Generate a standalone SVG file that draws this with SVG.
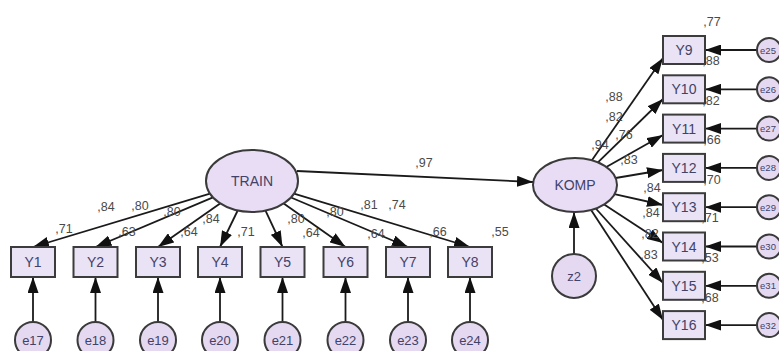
<svg xmlns="http://www.w3.org/2000/svg" width="779" height="351" viewBox="0 0 779 351">
  <defs>
    <marker id="arrow" markerUnits="userSpaceOnUse" markerWidth="16" markerHeight="11" refX="16" refY="5.5" orient="auto">
      <path d="M0,0 L16,5.5 L0,11 z" fill="#111"/>
    </marker>
    <style>
      .edge { stroke: #1a1a1a; stroke-width: 1.8; fill: none; marker-end: url(#arrow); }
      .obs { fill: #e9e3f5; stroke: #3c3c3c; stroke-width: 2; }
      .lat { fill: #e9ddf6; stroke: #3a3a3a; stroke-width: 2; }
      .err { fill: #e4d9f1; stroke: #3a3a3a; stroke-width: 2; }
      .nt { font-family: "Liberation Sans", Arial, sans-serif; font-size: 14px; fill: #424268; text-anchor: middle; }
      .et { font-family: "Liberation Sans", Arial, sans-serif; font-size: 13px; fill: #424268; text-anchor: middle; }
      .es { font-family: "Liberation Sans", Arial, sans-serif; font-size: 9.5px; fill: #424268; text-anchor: middle; }
      .lab { font-family: "Liberation Sans", Arial, sans-serif; font-size: 12.5px; fill: #4a4a4a; text-anchor: middle; }
    </style>
  </defs>
  <rect width="779" height="351" fill="#ffffff"/>

  <!-- paths -->
  <g id="connectors">
    <!-- TRAIN -> KOMP -->
    <line class="edge" x1="297" y1="171" x2="533" y2="182"/>
    <!-- TRAIN -> Y1..Y8 -->
    <line class="edge" x1="210" y1="193.7" x2="33" y2="247"/>
    <line class="edge" x1="213" y1="197.4" x2="95.5" y2="247"/>
    <line class="edge" x1="220.1" y1="203.4" x2="158" y2="247"/>
    <line class="edge" x1="237.7" y1="210.5" x2="220" y2="247"/>
    <line class="edge" x1="265.5" y1="210.6" x2="282.5" y2="247"/>
    <line class="edge" x1="283.7" y1="203.5" x2="345.5" y2="247"/>
    <line class="edge" x1="291" y1="197.5" x2="408" y2="247"/>
    <line class="edge" x1="294" y1="193.7" x2="470" y2="247"/>
    <!-- errors -> Y1..Y8 -->
    <line class="edge" x1="33" y1="322" x2="33" y2="277"/>
    <line class="edge" x1="95.5" y1="322" x2="95.5" y2="277"/>
    <line class="edge" x1="158" y1="322" x2="158" y2="277"/>
    <line class="edge" x1="220" y1="322" x2="220" y2="277"/>
    <line class="edge" x1="282.5" y1="322" x2="282.5" y2="277"/>
    <line class="edge" x1="345.5" y1="322" x2="345.5" y2="277"/>
    <line class="edge" x1="408" y1="322" x2="408" y2="277"/>
    <line class="edge" x1="470" y1="322" x2="470" y2="277"/>
    <!-- z2 -> KOMP -->
    <line class="edge" x1="574" y1="254" x2="574" y2="212"/>
    <!-- KOMP -> Y9..Y16 -->
    <line class="edge" x1="591.9" y1="160.3" x2="663" y2="58"/>
    <line class="edge" x1="597.9" y1="162.4" x2="663" y2="99"/>
    <line class="edge" x1="606.3" y1="167" x2="663" y2="135"/>
    <line class="edge" x1="615.6" y1="178" x2="663" y2="170"/>
    <line class="edge" x1="614.5" y1="194.1" x2="663" y2="205"/>
    <line class="edge" x1="604.2" y1="204.4" x2="663" y2="243"/>
    <line class="edge" x1="595.8" y1="208.5" x2="663" y2="283"/>
    <line class="edge" x1="591.1" y1="210" x2="663" y2="320"/>
    <!-- errors -> Y9..Y16 -->
    <line class="edge" x1="757" y1="50" x2="705" y2="50"/>
    <line class="edge" x1="757" y1="89.3" x2="705" y2="89.3"/>
    <line class="edge" x1="757" y1="128.6" x2="705" y2="128.6"/>
    <line class="edge" x1="757" y1="167.9" x2="705" y2="167.9"/>
    <line class="edge" x1="757" y1="207.2" x2="705" y2="207.2"/>
    <line class="edge" x1="757" y1="246.5" x2="705" y2="246.5"/>
    <line class="edge" x1="757" y1="285.8" x2="705" y2="285.8"/>
    <line class="edge" x1="757" y1="325.1" x2="705" y2="325.1"/>
  </g>

  <!-- latent variables -->
  <g id="TRAIN"><ellipse class="lat" cx="252" cy="181" rx="46" ry="31"/><text class="nt" x="252" y="186">TRAIN</text></g>
  <g id="KOMP"><ellipse class="lat" cx="575" cy="185" rx="42" ry="27"/><text class="nt" x="575" y="190">KOMP</text></g>
  <g id="z2"><circle class="err" cx="574" cy="276" r="22"/><text class="et" x="574" y="281">z2</text></g>

  <!-- TRAIN indicators -->
  <g id="Y1"><rect class="obs" x="11" y="247" width="44" height="30"/><text class="nt" x="33" y="267">Y1</text></g>
  <g id="Y2"><rect class="obs" x="73.5" y="247" width="44" height="30"/><text class="nt" x="95.5" y="267">Y2</text></g>
  <g id="Y3"><rect class="obs" x="136" y="247" width="44" height="30"/><text class="nt" x="158" y="267">Y3</text></g>
  <g id="Y4"><rect class="obs" x="198" y="247" width="44" height="30"/><text class="nt" x="220" y="267">Y4</text></g>
  <g id="Y5"><rect class="obs" x="260.5" y="247" width="44" height="30"/><text class="nt" x="282.5" y="267">Y5</text></g>
  <g id="Y6"><rect class="obs" x="323.5" y="247" width="44" height="30"/><text class="nt" x="345.5" y="267">Y6</text></g>
  <g id="Y7"><rect class="obs" x="386" y="247" width="44" height="30"/><text class="nt" x="408" y="267">Y7</text></g>
  <g id="Y8"><rect class="obs" x="448" y="247" width="44" height="30"/><text class="nt" x="470" y="267">Y8</text></g>

  <g id="e17"><circle class="err" cx="33" cy="340" r="18"/><text class="et" x="33" y="345">e17</text></g>
  <g id="e18"><circle class="err" cx="95.5" cy="340" r="18"/><text class="et" x="95.5" y="345">e18</text></g>
  <g id="e19"><circle class="err" cx="158" cy="340" r="18"/><text class="et" x="158" y="345">e19</text></g>
  <g id="e20"><circle class="err" cx="220" cy="340" r="18"/><text class="et" x="220" y="345">e20</text></g>
  <g id="e21"><circle class="err" cx="282.5" cy="340" r="18"/><text class="et" x="282.5" y="345">e21</text></g>
  <g id="e22"><circle class="err" cx="345.5" cy="340" r="18"/><text class="et" x="345.5" y="345">e22</text></g>
  <g id="e23"><circle class="err" cx="408" cy="340" r="18"/><text class="et" x="408" y="345">e23</text></g>
  <g id="e24"><circle class="err" cx="470" cy="340" r="18"/><text class="et" x="470" y="345">e24</text></g>

  <!-- KOMP indicators -->
  <g id="Y9"><rect class="obs" x="663" y="36" width="42" height="28"/><text class="nt" x="684" y="55">Y9</text></g>
  <g id="Y10"><rect class="obs" x="663" y="75.3" width="42" height="28"/><text class="nt" x="684" y="94.3">Y10</text></g>
  <g id="Y11"><rect class="obs" x="663" y="114.6" width="42" height="28"/><text class="nt" x="684" y="133.6">Y11</text></g>
  <g id="Y12"><rect class="obs" x="663" y="153.9" width="42" height="28"/><text class="nt" x="684" y="172.9">Y12</text></g>
  <g id="Y13"><rect class="obs" x="663" y="193.2" width="42" height="28"/><text class="nt" x="684" y="212.2">Y13</text></g>
  <g id="Y14"><rect class="obs" x="663" y="232.5" width="42" height="28"/><text class="nt" x="684" y="251.5">Y14</text></g>
  <g id="Y15"><rect class="obs" x="663" y="271.8" width="42" height="28"/><text class="nt" x="684" y="290.8">Y15</text></g>
  <g id="Y16"><rect class="obs" x="663" y="311.1" width="42" height="28"/><text class="nt" x="684" y="330.1">Y16</text></g>

  <g id="e25"><circle class="err" cx="769" cy="50" r="12"/><text class="es" x="768" y="53.5">e25</text></g>
  <g id="e26"><circle class="err" cx="769" cy="89.3" r="12"/><text class="es" x="768" y="92.8">e26</text></g>
  <g id="e27"><circle class="err" cx="769" cy="128.6" r="12"/><text class="es" x="768" y="132.1">e27</text></g>
  <g id="e28"><circle class="err" cx="769" cy="167.9" r="12"/><text class="es" x="768" y="171.4">e28</text></g>
  <g id="e29"><circle class="err" cx="769" cy="207.2" r="12"/><text class="es" x="768" y="210.7">e29</text></g>
  <g id="e30"><circle class="err" cx="769" cy="246.5" r="12"/><text class="es" x="768" y="250">e30</text></g>
  <g id="e31"><circle class="err" cx="769" cy="285.8" r="12"/><text class="es" x="768" y="289.3">e31</text></g>
  <g id="e32"><circle class="err" cx="769" cy="325.1" r="12"/><text class="es" x="768" y="328.6">e32</text></g>

  <!-- estimates -->
  <g id="estimates">
    <text class="lab" x="424" y="167">,97</text>
    <!-- TRAIN loadings and squared multiple correlations -->
    <text class="lab" x="106" y="211">,84</text>
    <text class="lab" x="140" y="210">,80</text>
    <text class="lab" x="172" y="216">,80</text>
    <text class="lab" x="211" y="223">,84</text>
    <text class="lab" x="296" y="223">,80</text>
    <text class="lab" x="335" y="216">,80</text>
    <text class="lab" x="369" y="209">,81</text>
    <text class="lab" x="397" y="209">,74</text>
    <text class="lab" x="64" y="233">,71</text>
    <text class="lab" x="127" y="236">,63</text>
    <text class="lab" x="189" y="236">,64</text>
    <text class="lab" x="246" y="236">,71</text>
    <text class="lab" x="311" y="237">,64</text>
    <text class="lab" x="376" y="238">,64</text>
    <text class="lab" x="438" y="236">,66</text>
    <text class="lab" x="500" y="236">,55</text>
    <!-- KOMP loadings -->
    <text class="lab" x="614" y="101">,88</text>
    <text class="lab" x="614" y="121">,82</text>
    <text class="lab" x="600" y="149">,94</text>
    <text class="lab" x="624" y="139">,76</text>
    <text class="lab" x="629" y="164">,83</text>
    <text class="lab" x="652" y="192">,84</text>
    <text class="lab" x="651" y="217">,84</text>
    <text class="lab" x="650" y="238">,82</text>
    <text class="lab" x="649" y="259">,83</text>
    <!-- KOMP squared multiple correlations -->
    <text class="lab" x="712" y="26">,77</text>
    <text class="lab" x="711" y="65">,88</text>
    <text class="lab" x="711" y="105">,82</text>
    <text class="lab" x="712" y="144">,66</text>
    <text class="lab" x="712" y="184">,70</text>
    <text class="lab" x="710" y="222">,71</text>
    <text class="lab" x="710" y="262">,53</text>
    <text class="lab" x="710" y="302">,68</text>
  </g>
</svg>
